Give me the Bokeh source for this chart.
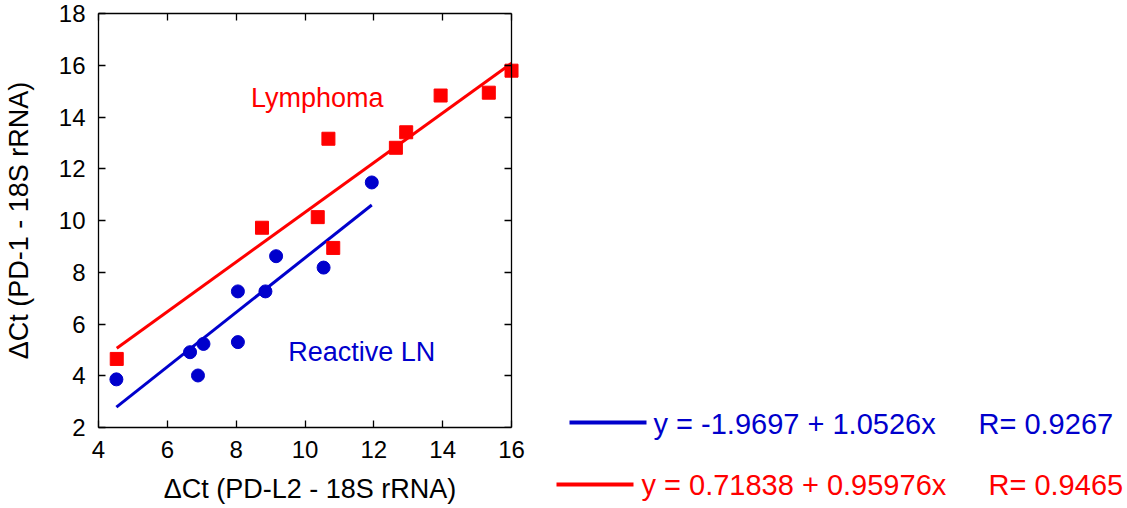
from bokeh.plotting import figure
from bokeh.models import Range1d, LinearAxis, Label, FixedTicker, Plot
from bokeh.layouts import row
from bokeh.embed import file_html
from bokeh.resources import INLINE

FONT = "Liberation Sans"
BLUE = "#0000CC"
RED = "#FF0000"

# ---- data ----
reactive_x = [4.52, 6.66, 6.89, 7.05, 8.05, 8.05, 8.85, 9.16, 10.54, 11.94]
reactive_y = [3.86, 4.91, 4.01, 5.23, 5.30, 7.26, 7.26, 8.62, 8.18, 11.47]
lymph_x = [4.53, 8.75, 10.37, 10.68, 10.82, 12.64, 12.94, 13.94, 15.34, 16.0]
lymph_y = [4.65, 9.72, 10.13, 13.16, 8.94, 12.81, 13.41, 14.83, 14.94, 15.79]

fit_intercepts = [-1.9697, 0.71838]
fit_slopes = [1.0526, 0.95976]
fit_r = [0.9267, 0.9465]

x_ticks = [4, 6, 8, 10, 12, 14, 16]
y_ticks = [2, 4, 6, 8, 10, 12, 14, 16, 18]

x_label = "\u0394Ct (PD-L2 - 18S rRNA)"
y_label = "\u0394Ct (PD-1 - 18S rRNA)"
group_names = ["Reactive LN", "Lymphoma"]

# ---- layout constants (pixels) ----
H = 508
X_MIN, X_MAX, Y_MIN, Y_MAX = 4, 16, 2, 18
AXIS_PX_W = 414          # pixel width of the 4..16 span
EXTRA_R = 10             # room so the marker at the right edge is not clipped
LEFT, TOP, BOTTOM = 97, 13, 81
W1 = LEFT + AXIS_PX_W + EXTRA_R + 24
x_end = X_MAX + EXTRA_R * (X_MAX - X_MIN) / AXIS_PX_W

p = figure(width=W1, height=H, x_range=Range1d(X_MIN, x_end), y_range=Range1d(Y_MIN, Y_MAX),
           output_backend="svg", toolbar_location=None,
           min_border_left=LEFT, min_border_right=W1 - LEFT - AXIS_PX_W - EXTRA_R,
           min_border_top=TOP, min_border_bottom=BOTTOM,
           x_axis_label=x_label, y_axis_label=y_label)
p.grid.visible = False
p.outline_line_color = None
p.background_fill_color = "white"
p.border_fill_color = "white"

top_ax = LinearAxis(bounds=(X_MIN, X_MAX))
right_ax = LinearAxis(fixed_location=X_MAX)
p.add_layout(top_ax, "above")
p.add_layout(right_ax, "right")
p.below[0].bounds = (X_MIN, X_MAX)

for ax in p.axis:
    ax.axis_line_color = "black"
    ax.axis_line_width = 1.3
    ax.major_tick_line_color = "black"
    ax.major_tick_line_width = 1.3
    ax.major_tick_in = 7
    ax.major_tick_out = 0
    ax.minor_tick_line_color = None
    ax.major_label_text_font = FONT
    ax.major_label_text_font_size = "24px"
    ax.major_label_text_color = "black"
    ax.major_label_standoff = 13
    ax.axis_label_text_font = FONT
    ax.axis_label_text_font_size = "27px"
    ax.axis_label_text_font_style = "normal"
    ax.axis_label_text_color = "black"

p.below[0].ticker = FixedTicker(ticks=x_ticks)
top_ax.ticker = FixedTicker(ticks=x_ticks)
p.left[0].ticker = FixedTicker(ticks=y_ticks)
right_ax.ticker = FixedTicker(ticks=y_ticks)
p.below[0].axis_label_standoff = 13
p.left[0].axis_label_standoff = 22
for ax in (top_ax, right_ax):
    ax.major_label_text_font_size = "0px"
    ax.major_label_text_color = None
    ax.major_label_standoff = 0

# regression lines (from the stated fits)
for xs, b0, b1, col in ((reactive_x, fit_intercepts[0], fit_slopes[0], BLUE),
                        (lymph_x, fit_intercepts[1], fit_slopes[1], RED)):
    x0, x1 = min(xs), max(xs)
    p.line([x0, x1], [b0 + b1 * x0, b0 + b1 * x1], line_color=col, line_width=3)

p.scatter(reactive_x, reactive_y, marker="circle", size=13, fill_color=BLUE, line_color=BLUE)
p.scatter(lymph_x, lymph_y, marker="square", size=13, fill_color=RED, line_color=RED)

p.add_layout(Label(x=8.43, y=14.75, text=group_names[1], text_font=FONT, text_font_size="27px",
                   text_color=RED, text_baseline="middle"))
p.add_layout(Label(x=9.51, y=4.90, text=group_names[0], text_font=FONT, text_font_size="27px",
                   text_color=BLUE, text_baseline="middle"))

# ---- legend panel ----
W2 = 1127 - W1
leg = figure(width=W2, height=H, x_range=Range1d(0, W2), y_range=Range1d(H, 0),
             output_backend="svg", toolbar_location=None, min_border=0,
             x_axis_type=None, y_axis_type=None)
if "frame_align" in Plot.properties():
    leg.frame_align = False
    p.frame_align = False
leg.grid.visible = False
leg.outline_line_color = None
leg.background_fill_color = "white"
leg.border_fill_color = "white"

legend_rows = [
    dict(col=BLUE, lx=(569, 646), ly=422, tx=653, rx=978, ty=423),
    dict(col=RED, lx=(556, 633), ly=484, tx=641, rx=988, ty=484.5),
]
for i, r in enumerate(legend_rows):
    leg.line([r["lx"][0] - W1, r["lx"][1] - W1], [r["ly"], r["ly"]], line_color=r["col"], line_width=4)
    eq = f"y = {fit_intercepts[i]:g} + {fit_slopes[i]:g}x"
    leg.add_layout(Label(x=r["tx"] - W1, y=r["ty"], text=eq, text_font=FONT, text_font_size="29px",
                         text_color=r["col"], text_baseline="middle"))
    leg.add_layout(Label(x=r["rx"] - W1, y=r["ty"], text=f"R= {fit_r[i]:g}", text_font=FONT,
                         text_font_size="29px", text_color=r["col"], text_baseline="middle"))

layout = row(p, leg)
open("out.html", "w").write(file_html(layout, INLINE))
